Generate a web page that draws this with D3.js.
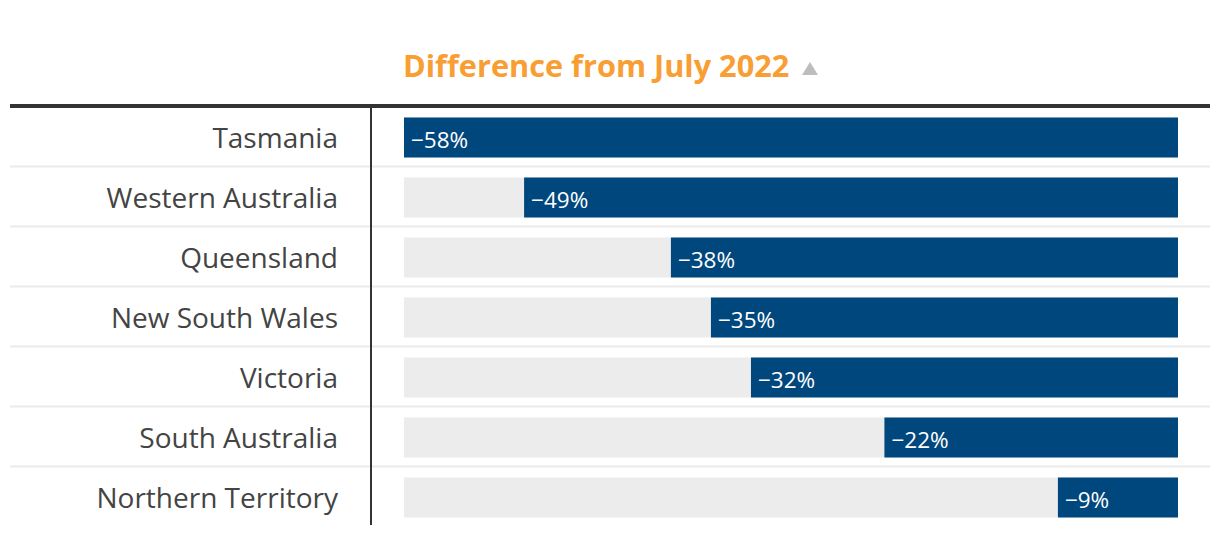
<!DOCTYPE html>
<html><head><meta charset="utf-8">
<script src="https://cdn.jsdelivr.net/npm/d3@7"></script>
<style>body{margin:0;background:#fff;}svg{display:block;font-family:"Open Sans",sans-serif;}</style>
</head><body><svg id="c" width="1220" height="536"></svg>
<script>
const regions = ["Tasmania","Western Australia","Queensland","New South Wales","Victoria","South Australia","Northern Territory"];
const diffValues = [-58,-49,-38,-35,-32,-22,-9];
const titleText = "Difference from July 2022";

const svg = d3.select("#c");
const x = d3.scaleLinear().domain([d3.min(diffValues),0]).range([404,1178]);
const y = d3.scaleBand().domain(regions).range([107,527]).paddingInner(0);
const barH = 40;

// title
svg.append("text").attr("x",403).attr("y",77)
  .attr("font-size",30.7).attr("font-weight",700).attr("fill","#f89e32").text(titleText);
svg.append("path").attr("d","M802,75L818,75L810,62Z").attr("fill","#bdbdbd");

// separators
svg.selectAll("line.sep").data(regions.slice(0,-1)).join("line").attr("class","sep")
  .attr("x1",10).attr("x2",1210)
  .attr("y1",d=>y(d)+y.bandwidth()-0.5).attr("y2",d=>y(d)+y.bandwidth()-0.5)
  .attr("stroke","#ebebeb").attr("stroke-width",2);

// backgrounds
svg.selectAll("rect.bg").data(regions).join("rect").attr("class","bg")
  .attr("x",x(d3.min(diffValues))).attr("width",x(0)-x(d3.min(diffValues)))
  .attr("y",d=>y(d)+(y.bandwidth()-barH)/2+0.5).attr("height",barH).attr("fill","#ececec");

const data = regions.map((r,i)=>({r,v:diffValues[i]}));
svg.selectAll("rect.bar").data(data).join("rect").attr("class","bar")
  .attr("x",d=>x(d.v)).attr("width",d=>x(0)-x(d.v))
  .attr("y",d=>y(d.r)+(y.bandwidth()-barH)/2+0.5).attr("height",barH).attr("fill","#00477e");

svg.selectAll("text.val").data(data).join("text").attr("class","val")
  .attr("x",d=>x(d.v)+7).attr("y",d=>y(d.r)+y.bandwidth()/2+10.5)
  .attr("font-size",22.5).attr("fill","#fff").text(d=>"\u2212"+Math.abs(d.v)+"%");

svg.selectAll("text.lab").data(regions).join("text").attr("class","lab")
  .attr("x",338).attr("y",d=>y(d)+y.bandwidth()/2+10.5).attr("text-anchor","end")
  .attr("font-size",28).attr("fill","#444").text(d=>d);

// axis lines
svg.append("line").attr("x1",371).attr("x2",371).attr("y1",106).attr("y2",525)
  .attr("stroke","#333").attr("stroke-width",2);
svg.append("line").attr("x1",10).attr("x2",1210).attr("y1",106).attr("y2",106)
  .attr("stroke","#333").attr("stroke-width",4);
</script></body></html>
